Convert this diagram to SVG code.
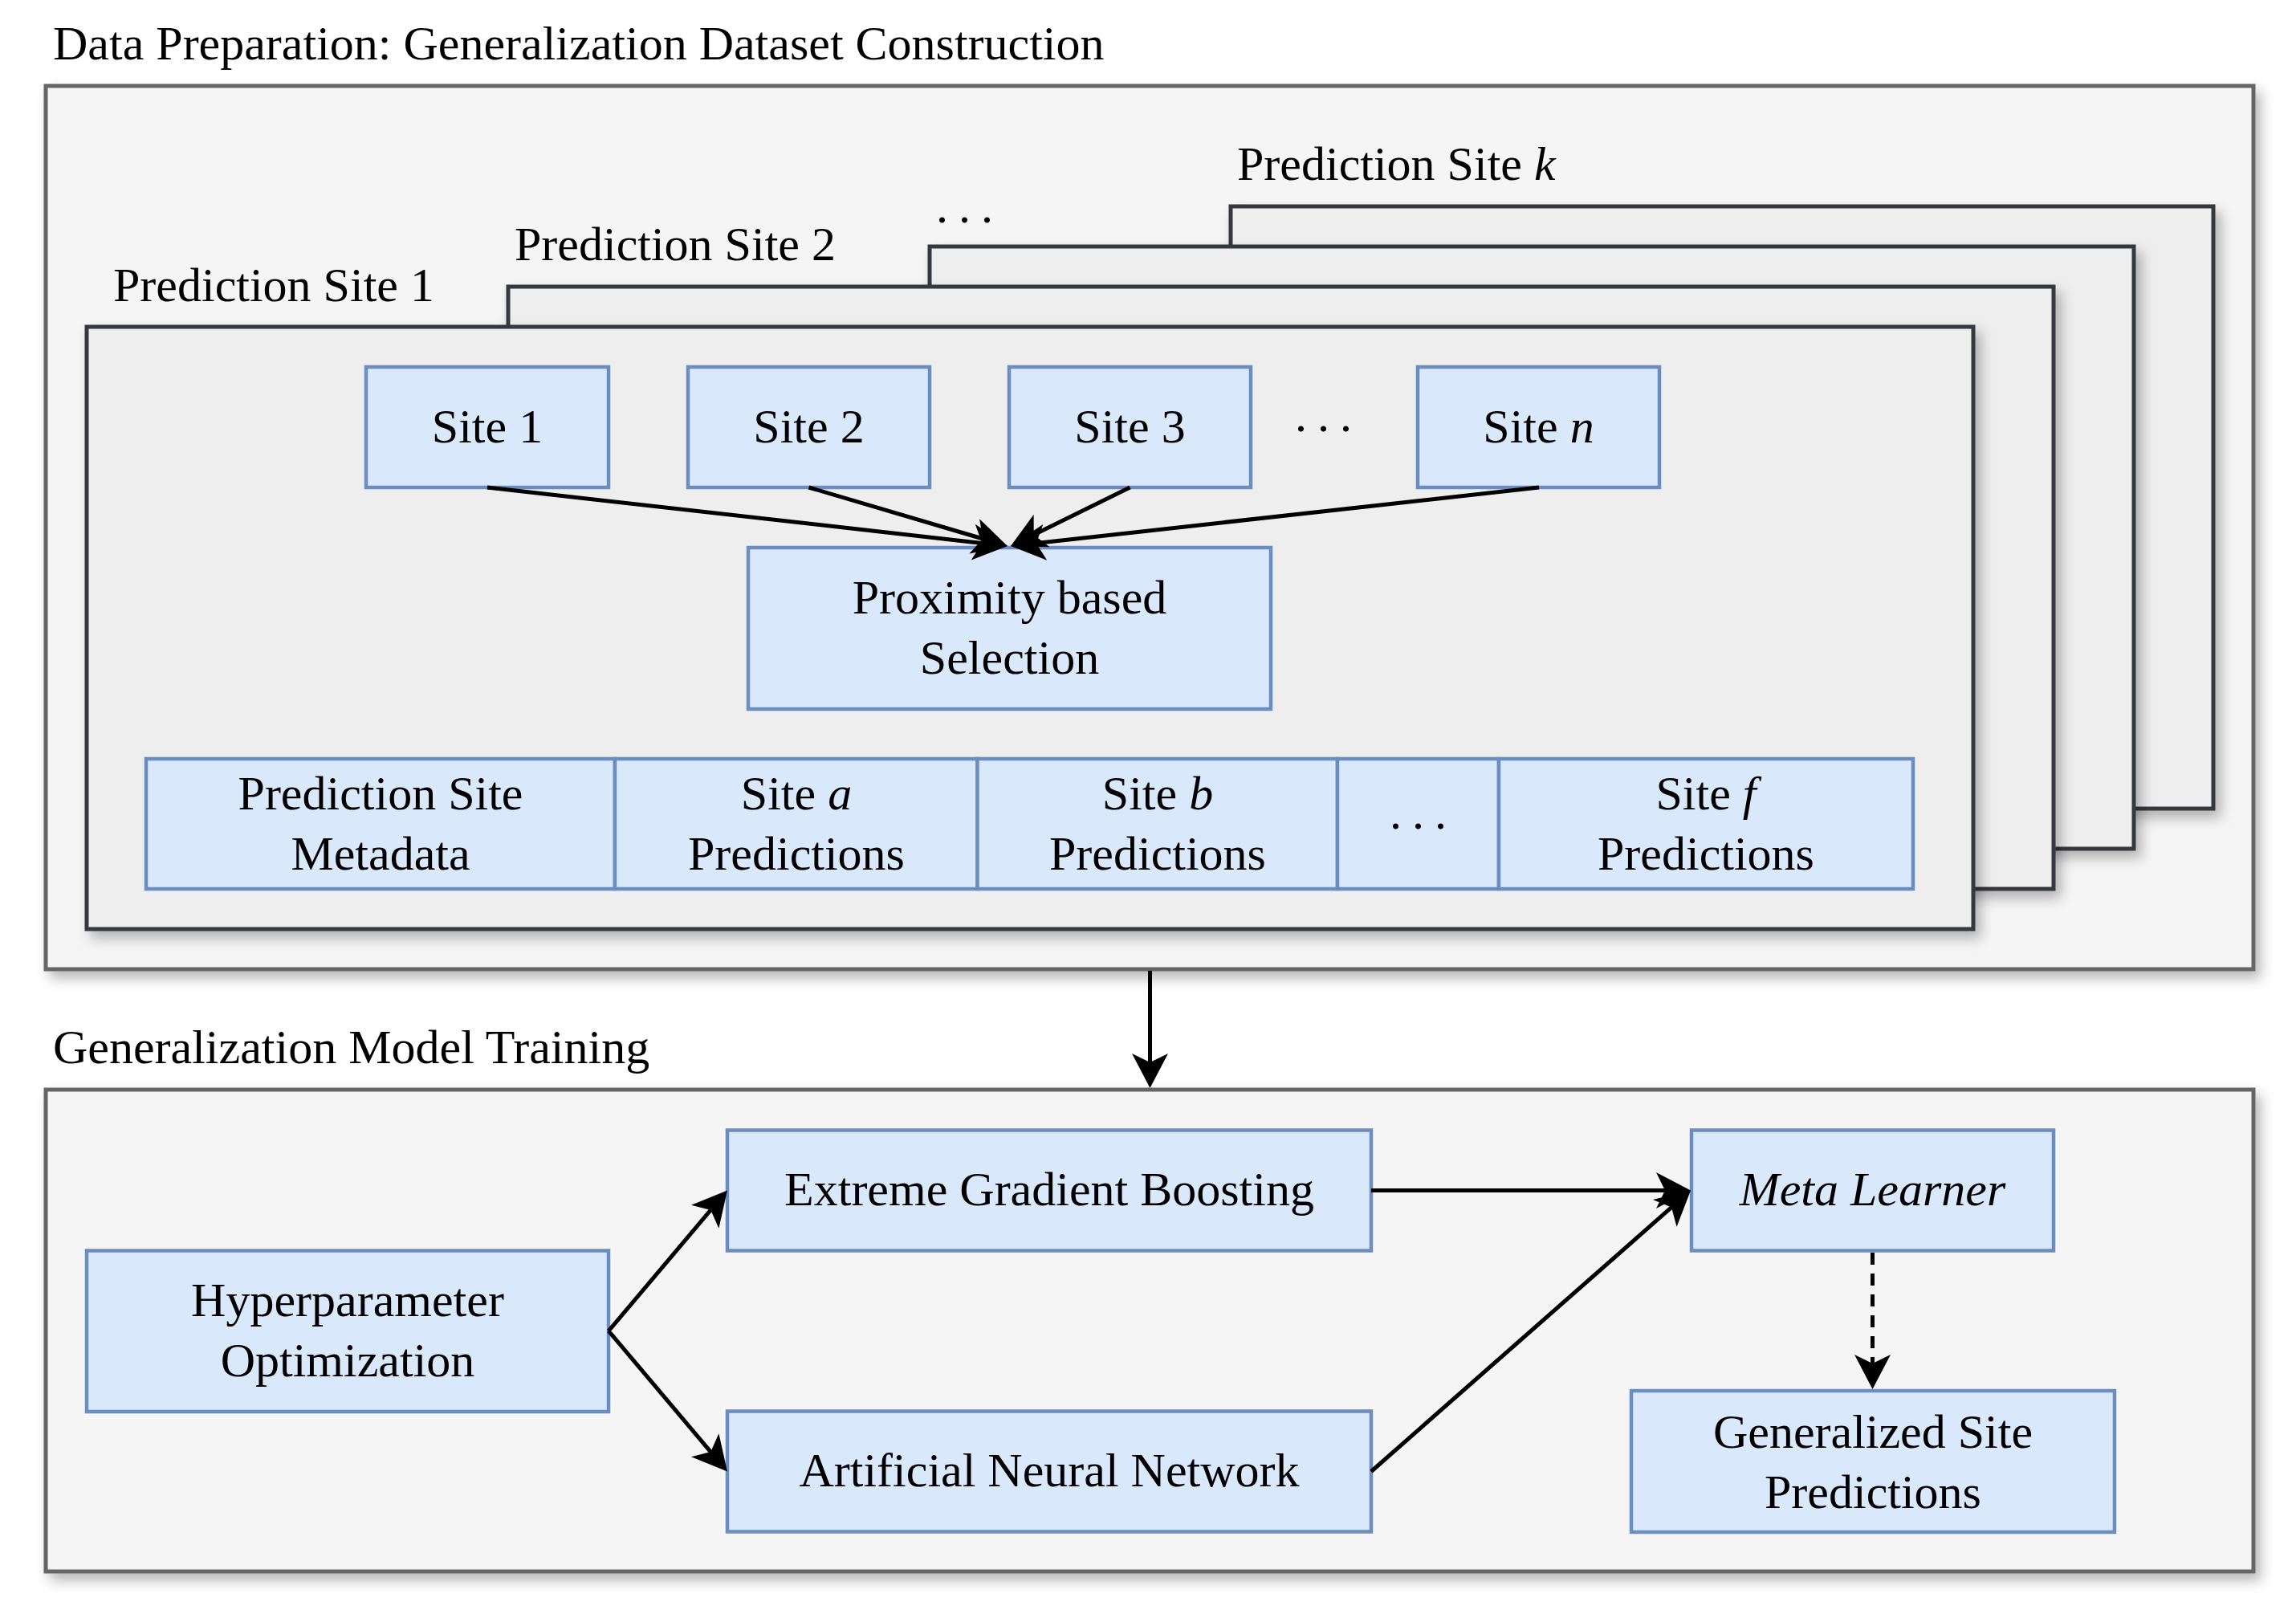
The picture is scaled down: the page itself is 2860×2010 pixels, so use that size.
<svg xmlns="http://www.w3.org/2000/svg" width="2860" height="2010" viewBox="0 0 2860 2010">
  <defs>
    <filter id="shadow" x="-5%" y="-5%" width="115%" height="120%">
      <feDropShadow dx="7" dy="9" stdDeviation="8" flood-color="#000" flood-opacity="0.28"/>
    </filter>
    <marker id="arrow" markerUnits="userSpaceOnUse" viewBox="-15 -25 50 50" markerWidth="50" markerHeight="50" refX="0" refY="0" orient="auto" overflow="visible">
      <path d="M32,0 L-11,-22.5 L0,0 L-11,22.5 Z" fill="#000"/>
    </marker>
    <style>
      .outer { fill: #f5f5f5; stroke: #666666; stroke-width: 5; }
      .stack { fill: #eeeeee; stroke: #36393d; stroke-width: 5; }
      .node { fill: #dae8fc; stroke: #6c8ebf; stroke-width: 4.5; }
      text { font-family: "Liberation Serif", "Times New Roman", serif; font-size: 60px; fill: #000; }
      .c { text-anchor: middle; }
      .m { font-style: italic; }
      .dots { letter-spacing: 13px; }
      .edge { fill: none; stroke: #000; stroke-width: 5; marker-end: url(#arrow); }
      .dash { stroke-dasharray: 15 11; }
    </style>
  </defs>
  <rect width="2860" height="2010" fill="#ffffff"/>

  <g id="data-preparation">
    <text x="66" y="74">Data Preparation: Generalization Dataset Construction</text>
    <rect class="outer" x="57" y="107" width="2750" height="1100" filter="url(#shadow)"/>
  </g>

  <g id="prediction-site-k">
    <text x="1541" y="224">Prediction Site <tspan class="m">k</tspan></text>
    <rect class="stack" x="1533" y="257" width="1224" height="750" filter="url(#shadow)"/>
  </g>
  <g id="prediction-site-dots">
    <text class="dots" x="1166" y="277">...</text>
    <rect class="stack" x="1158" y="307" width="1500" height="750" filter="url(#shadow)"/>
  </g>
  <g id="prediction-site-2">
    <text x="641" y="324">Prediction Site 2</text>
    <rect class="stack" x="633" y="357" width="1925" height="750" filter="url(#shadow)"/>
  </g>
  <g id="prediction-site-1">
    <text x="141" y="375">Prediction Site 1</text>
    <rect class="stack" x="108" y="407" width="2350" height="750" filter="url(#shadow)"/>
  </g>

  <g id="site-1">
    <rect class="node" x="456" y="457" width="302" height="150"/>
    <text class="c" x="607" y="551">Site 1</text>
  </g>
  <g id="site-2">
    <rect class="node" x="857" y="457" width="301" height="150"/>
    <text class="c" x="1007.5" y="551">Site 2</text>
  </g>
  <g id="site-3">
    <rect class="node" x="1257" y="457" width="301" height="150"/>
    <text class="c" x="1407.5" y="551">Site 3</text>
  </g>
  <g id="site-dots">
    <text class="dots" x="1613" y="537">...</text>
  </g>
  <g id="site-n">
    <rect class="node" x="1766" y="457" width="301" height="150"/>
    <text class="c" x="1916.5" y="551">Site <tspan class="m">n</tspan></text>
  </g>

  <g id="proximity-selection">
    <rect class="node" x="932" y="682" width="651" height="201"/>
    <text class="c" x="1257.5" y="764">Proximity based</text>
    <text class="c" x="1257.5" y="839">Selection</text>
  </g>

  <g id="prediction-site-metadata">
    <rect class="node" x="182" y="945" width="584" height="162"/>
    <text class="c" x="474" y="1008">Prediction Site</text>
    <text class="c" x="474" y="1083">Metadata</text>
  </g>
  <g id="site-a-predictions">
    <rect class="node" x="766" y="945" width="451.5" height="162"/>
    <text class="c" x="992" y="1008">Site <tspan class="m">a</tspan></text>
    <text class="c" x="992" y="1083">Predictions</text>
  </g>
  <g id="site-b-predictions">
    <rect class="node" x="1217.5" y="945" width="448.5" height="162"/>
    <text class="c" x="1442" y="1008">Site <tspan class="m">b</tspan></text>
    <text class="c" x="1442" y="1083">Predictions</text>
  </g>
  <g id="row-dots">
    <rect class="node" x="1666" y="945" width="201" height="162"/>
    <text class="dots" x="1731" y="1032">...</text>
  </g>
  <g id="site-f-predictions">
    <rect class="node" x="1867" y="945" width="516" height="162"/>
    <text class="c" x="2125" y="1008">Site <tspan class="m">f</tspan></text>
    <text class="c" x="2125" y="1083">Predictions</text>
  </g>

  <g id="model-training">
    <text x="66" y="1324">Generalization Model Training</text>
    <rect class="outer" x="57" y="1357" width="2750" height="600" filter="url(#shadow)"/>
  </g>

  <g id="hyperparameter-optimization">
    <rect class="node" x="108" y="1557.5" width="650" height="200.5"/>
    <text class="c" x="433" y="1639">Hyperparameter</text>
    <text class="c" x="433" y="1714">Optimization</text>
  </g>
  <g id="xgboost">
    <rect class="node" x="906" y="1407.5" width="802" height="150"/>
    <text class="c" x="1307" y="1501">Extreme Gradient Boosting</text>
  </g>
  <g id="ann">
    <rect class="node" x="906" y="1757.5" width="802" height="150"/>
    <text class="c" x="1307" y="1851">Artificial Neural Network</text>
  </g>
  <g id="meta-learner">
    <rect class="node" x="2107" y="1407.5" width="451" height="150"/>
    <text class="c m" x="2332.5" y="1501">Meta Learner</text>
  </g>
  <g id="generalized-predictions">
    <rect class="node" x="2032" y="1732" width="602" height="176"/>
    <text class="c" x="2333" y="1803">Generalized Site</text>
    <text class="c" x="2333" y="1878">Predictions</text>
  </g>

  <g id="connectors">
    <path class="edge" d="M607,607 L1223.2,676.4"/>
    <path class="edge" d="M1007.5,607 L1224.3,671.0"/>
    <path class="edge" d="M1407.5,607 L1287.7,665.9"/>
    <path class="edge" d="M1917,607 L1290.8,676.5"/>
    <path class="edge" d="M1432.5,1209 L1432.5,1323"/>
    <path class="edge" d="M758,1657.5 L885.3,1506.9"/>
    <path class="edge" d="M758,1657.5 L885.3,1808.1"/>
    <path class="edge" d="M1708,1482.5 L2074,1482.5"/>
    <path class="edge" d="M1708,1832.5 L2082.0,1503.6"/>
    <path class="edge dash" d="M2332.5,1560 L2332.5,1698"/>
  </g>
</svg>
